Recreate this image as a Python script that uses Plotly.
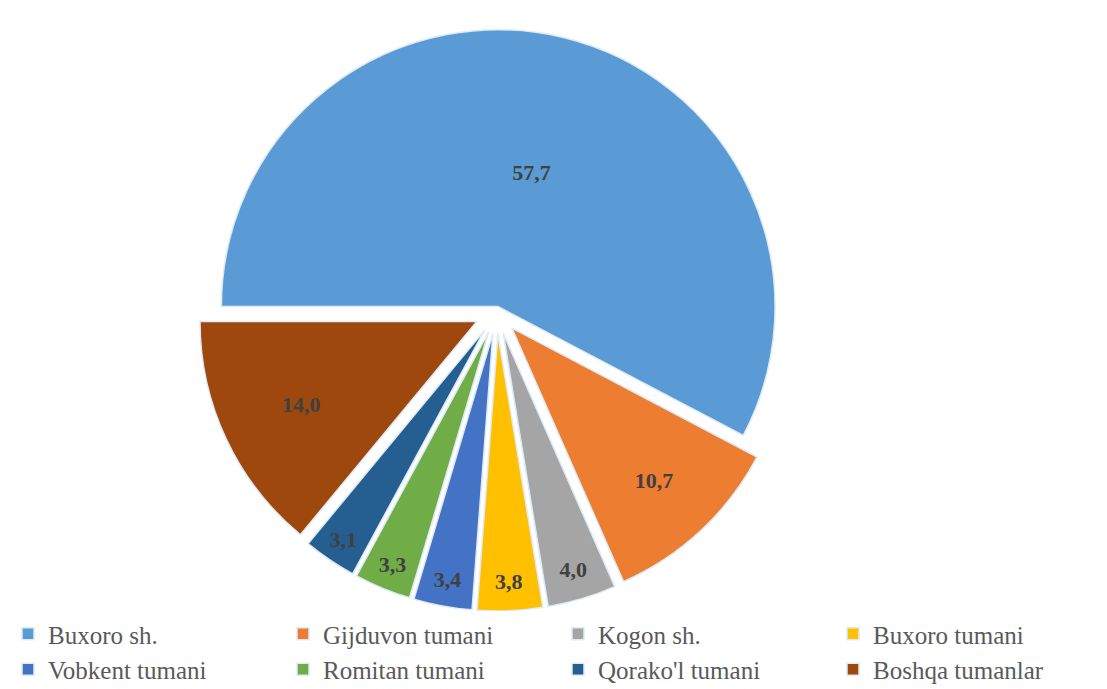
import plotly.graph_objects as go

labels = ["Buxoro sh.", "Gijduvon tumani", "Kogon sh.", "Buxoro tumani",
          "Vobkent tumani", "Romitan tumani", "Qorako'l tumani", "Boshqa tumanlar"]
values = [57.7, 10.7, 4.0, 3.8, 3.4, 3.3, 3.1, 14.0]
colors = ["#5B9BD5", "#ED7D31", "#A5A5A5", "#FFC000",
          "#4472C4", "#70AD47", "#255E91", "#9E480E"]
pulls = [0.02, 0.08, 0.08, 0.08, 0.08, 0.08, 0.08, 0.08]

SERIF = "Liberation Serif"

fig = go.Figure(go.Pie(
    labels=labels,
    values=values,
    sort=False,
    direction="clockwise",
    rotation=270,
    pull=pulls,
    marker=dict(colors=colors, line=dict(color="#DDEBF7", width=1.5)),
    texttemplate="%{value:.1f}",
    textposition="inside",
    insidetextorientation="horizontal",
    textfont=dict(family=SERIF, size=22, color="#404040", weight="bold"),
    domain=dict(x=[0.0, 0.87], y=[0.0, 1.0]),
    hoverinfo="label+value",
))

fig.update_layout(
    width=1107, height=689,
    separators=", ",
    paper_bgcolor="white",
    plot_bgcolor="white",
    margin=dict(l=0, r=0, t=5, b=86),
    font=dict(family=SERIF, color="#595959"),
    legend=dict(
        orientation="h",
        x=-0.012, y=0.0, xanchor="left", yanchor="top",
        entrywidth=230, entrywidthmode="pixels",
        font=dict(family=SERIF, size=25, color="#595959"),
        traceorder="normal",
        itemwidth=30,
        tracegroupgap=0,
    ),
)

fig.write_html("out.html")
